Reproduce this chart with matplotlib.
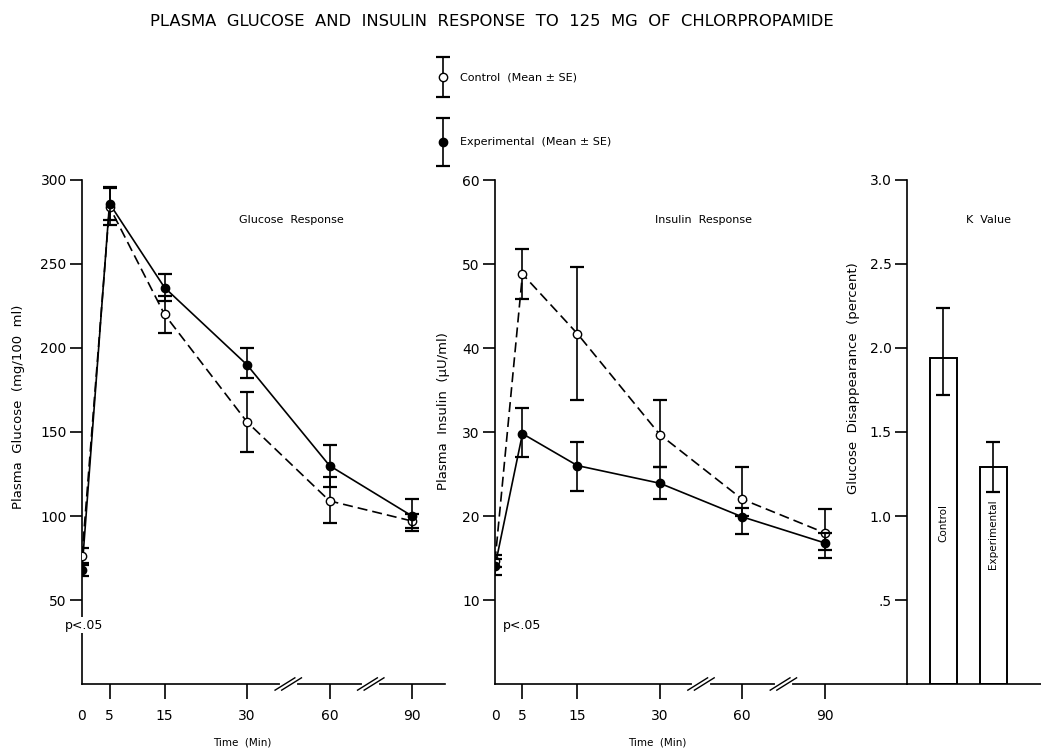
import numpy as np
import matplotlib
matplotlib.use("Agg")
import matplotlib.pyplot as plt
import matplotlib.transforms as mtransforms

plt.rcParams["font.family"] = ["DejaVu Sans"]

# ---------------------------------------------------------------
# data
# ---------------------------------------------------------------
times = [0, 5, 15, 30, 60, 90]
time_labels = ["0", "5", "15", "30", "60", "90"]

glu_ctrl = [76, 284, 220, 156, 109, 97]
glu_ctrl_lo = [71, 273, 209, 138, 96, 93]
glu_ctrl_hi = [81, 295, 231, 174, 123, 101]
glu_exp = [68, 286, 236, 190, 130, 100]
glu_exp_lo = [64, 276, 228, 182, 117, 91]
glu_exp_hi = [72, 296, 244, 200, 142, 110]

ins_ctrl = [14.6, 48.8, 41.7, 29.7, 22.0, 18.0]
ins_ctrl_lo = [13.9, 45.8, 33.8, 25.8, 20.0, 16.0]
ins_ctrl_hi = [15.3, 51.8, 49.7, 33.8, 25.8, 20.8]
ins_exp = [14.0, 29.8, 26.0, 23.9, 19.9, 16.8]
ins_exp_lo = [13.0, 27.0, 23.0, 22.0, 17.9, 15.0]
ins_exp_hi = [14.9, 32.8, 28.8, 25.8, 21.0, 18.0]

k_groups = ["Control", "Experimental"]
k_vals = [1.94, 1.29]
k_lo = [1.72, 1.14]
k_hi = [2.24, 1.44]

# broken time axis: 0-30 linear, then 30 min per 15 units
def tpos(t):
    return np.interp(t, [0, 30, 60, 90], [0, 30, 45, 60])

W, H = 1041, 754
fig = plt.figure(figsize=(W / 100, H / 100), dpi=100)

def fx(px):
    return px / W

def fy(py):
    return 1 - py / H

LW = 1.2
MS = 6
AX_H = (684 - 180) / H * 1.02

def style_axes(ax, ymax, yticks, ylabels):
    for s in ["top", "right"]:
        ax.spines[s].set_visible(False)
    ax.spines["left"].set_bounds(0, ymax)
    ax.spines["left"].set_linewidth(LW)
    ax.spines["bottom"].set_linewidth(LW)
    ax.set_ylim(0, ymax * 1.02)
    ax.set_yticks(yticks)
    ax.set_yticklabels(ylabels)
    ax.tick_params(axis="y", direction="out", length=9, width=LW, labelsize=10, pad=2)
    ax.set_facecolor("none")

def time_panel(ax, ymax, yticks, ylabels, ctrl, clo, chi, expv, elo, ehi):
    x = tpos(times)
    ax.errorbar(x, ctrl, yerr=[np.subtract(ctrl, clo), np.subtract(chi, ctrl)],
                fmt="o", color="black", mfc="white", mec="black", ms=MS,
                ecolor="black", elinewidth=LW, capsize=5, capthick=1.6, zorder=4)
    ax.plot(x, ctrl, color="black", lw=LW, dashes=(6, 3), zorder=3)
    ax.errorbar(x, expv, yerr=[np.subtract(expv, elo), np.subtract(ehi, expv)],
                fmt="o", color="black", mfc="black", mec="black", ms=MS,
                ecolor="black", elinewidth=LW, capsize=5, capthick=1.6, zorder=5)
    ax.plot(x, expv, color="black", lw=LW, zorder=3)
    style_axes(ax, ymax, yticks, ylabels)
    ax.set_xticks(x)
    ax.set_xticklabels(time_labels)
    ax.tick_params(axis="x", direction="out", length=11, width=LW, labelsize=10, pad=7)
    ax.xaxis.get_major_ticks()[0].tick1line.set_visible(False)
    # axis break marks
    trans = mtransforms.blended_transform_factory(ax.transData, ax.transAxes)
    for xb in [37.5, 52.5]:
        ax.plot([xb - 1.2, xb + 1.2], [0, 0], color="white", lw=3,
                transform=trans, clip_on=False, zorder=6)
        for dx in [-0.6, 0.6]:
            ax.plot([xb + dx - 1.8, xb + dx + 1.8], [-0.012, 0.012], color="black",
                    lw=1.0, transform=trans, clip_on=False, zorder=7)
    ax.set_xlabel("Time  (Min)", fontsize=7.5)

# ---------------- glucose panel ----------------
ax1 = fig.add_axes([fx(82), fy(684), fx(445 - 82), AX_H])
time_panel(ax1, 300, [50, 100, 150, 200, 250, 300],
           ["50", "100", "150", "200", "250", "300"],
           glu_ctrl, glu_ctrl_lo, glu_ctrl_hi, glu_exp, glu_exp_lo, glu_exp_hi)
ax1.set_xlim(0, 66)
ax1.set_ylabel("Plasma  Glucose  (mg/100  ml)", fontsize=9.5)
ax1.yaxis.set_label_coords((25 - 82) / (445 - 82), 0.54)
ax1.xaxis.set_label_coords((242 - 82) / (445 - 82), -0.105)
ax1.text(38, 276, "Glucose  Response", fontsize=8, ha="center", va="center")
ax1.text(0.4, 35, "p<.05", fontsize=9, ha="center", va="center",
         bbox=dict(facecolor="white", edgecolor="none", pad=1), zorder=8)

# ---------------- insulin panel ----------------
ax2 = fig.add_axes([fx(495), fy(684), fx(907 - 495), AX_H])
time_panel(ax2, 60, [10, 20, 30, 40, 50, 60],
           ["10", "20", "30", "40", "50", "60"],
           ins_ctrl, ins_ctrl_lo, ins_ctrl_hi, ins_exp, ins_exp_lo, ins_exp_hi)
ax2.set_xlim(0, 75)
ax2.set_ylabel("Plasma  Insulin  (\u00b5U/ml)", fontsize=9.5)
ax2.yaxis.set_label_coords((450 - 495) / (907 - 495), 0.53)
ax2.xaxis.set_label_coords((657 - 495) / (907 - 495), -0.105)
ax2.text(38, 55.2, "Insulin  Response", fontsize=8, ha="center", va="center")
ax2.text(5, 7.0, "p<.05", fontsize=9, ha="center", va="center")

# ---------------- K value panel ----------------
ax3 = fig.add_axes([fx(907), fy(684), fx(W - 907), AX_H])
kx = [1, 2]
ax3.bar(kx, k_vals, width=0.54, color="white", edgecolor="black", linewidth=1.4, zorder=2)
ax3.errorbar(kx, k_vals, yerr=[np.subtract(k_vals, k_lo), np.subtract(k_hi, k_vals)],
             fmt="none", ecolor="black", elinewidth=LW, capsize=5, capthick=1.6, zorder=3)
style_axes(ax3, 3.0, [0.5, 1.0, 1.5, 2.0, 2.5, 3.0], [".5", "1.0", "1.5", "2.0", "2.5", "3.0"])
ax3.set_xlim(0.28, 2.96)
ax3.set_xticks([])
ax3.set_ylabel("Glucose  Disappearance  (percent)", fontsize=9.5)
ax3.yaxis.set_label_coords((860 - 907) / (W - 907), 0.595)
for xi, g, yc in zip(kx, k_groups, [0.96, 0.89]):
    ax3.text(xi, yc, g, rotation=90, fontsize=7.5, ha="center", va="center")
ax3.text(1.9, 2.76, "K  Value", fontsize=8, ha="center", va="center")

# ---------------- title and legend ----------------
fig.text(fx(492), fy(22), "PLASMA  GLUCOSE  AND  INSULIN  RESPONSE  TO  125  MG  OF  CHLORPROPAMIDE",
         fontsize=11.8, ha="center", va="center")

lax = fig.add_axes([0, 0, 1, 1])
lax.set_xlim(0, W)
lax.set_ylim(H, 0)
lax.axis("off")
lax.errorbar([443], [77], yerr=[[20]], fmt="o", color="black", mfc="white", mec="black",
             ms=MS, elinewidth=LW, capsize=5, capthick=1.6)
lax.errorbar([443], [142], yerr=[[24]], fmt="o", color="black", mfc="black", mec="black",
             ms=MS, elinewidth=LW, capsize=5, capthick=1.6)
lax.text(460, 77, "Control  (Mean \u00b1 SE)", fontsize=8, va="center")
lax.text(460, 142, "Experimental  (Mean \u00b1 SE)", fontsize=8, va="center")

fig.savefig("out.png", dpi=100)
